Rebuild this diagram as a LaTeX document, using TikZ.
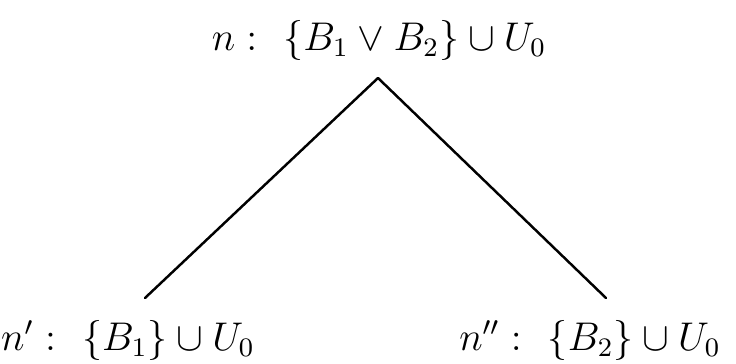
\documentclass[tikz,border=0pt]{standalone}
\usepackage{amsmath,amssymb}
\usetikzlibrary{arrows.meta}
\tikzset{
  every picture/.style={line join=round, line cap=round},
  edge/.style={line width=0.7pt},
  lab/.style={font=\large, scale=0.95, transform shape},
}
\begin{document}
\begin{tikzpicture}
\useasboundingbox (0,0) rectangle (7.36,3.63);
\node[lab](n) at (3.79,3.23){$n\;{:}\ \ \{B_1\vee B_2\}\cup U_0$};
\node[lab](n1) at (1.28,0.23){$n'\;{:}\ \ \{B_1\}\cup U_0$};
\node[lab](n2) at (5.9,0.23){$n''\;{:}\ \ \{B_2\}\cup U_0$};
\coordinate(a) at (3.78,2.85);
\coordinate(l) at (1.45,0.65);
\coordinate(r) at (6.06,0.65);
\draw[edge](a)--(l);
\draw[edge](a)--(r);
\end{tikzpicture}
\end{document}
